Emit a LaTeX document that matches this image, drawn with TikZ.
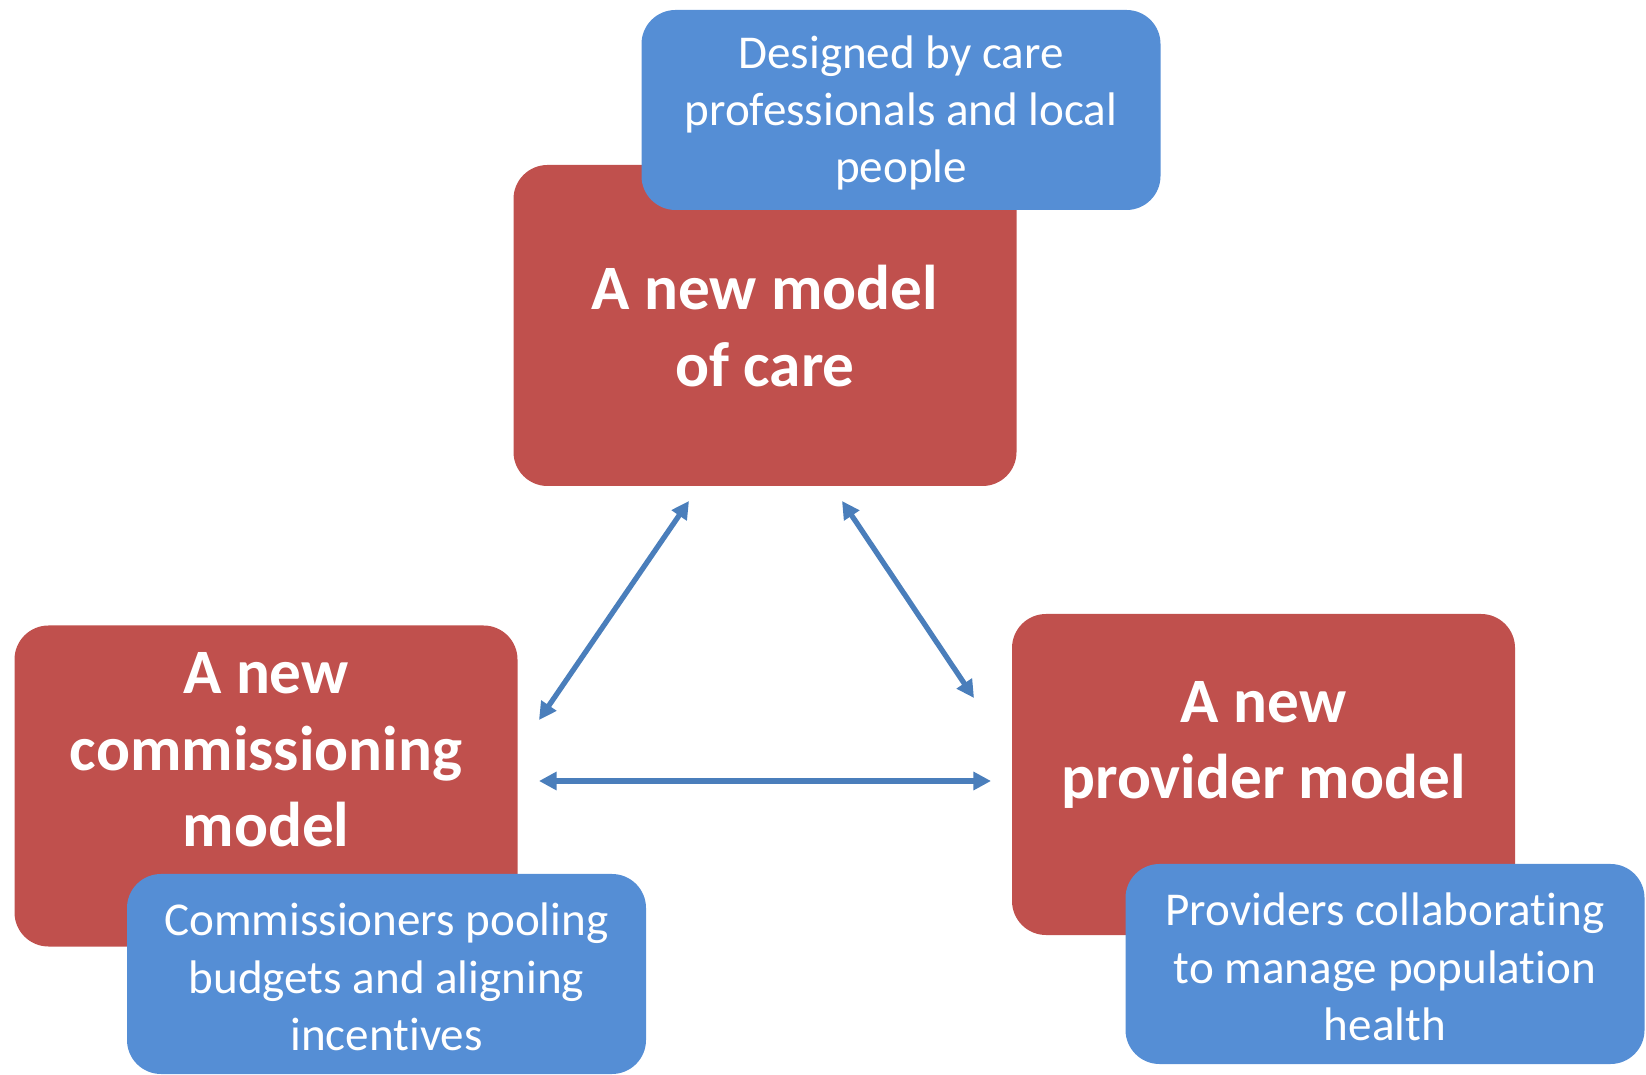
\documentclass[tikz,border=0pt]{standalone}
\usepackage{fontspec}
\setmainfont{Carlito}[Ligatures=NoCommon]
\usepackage{tikz}
\usetikzlibrary{arrows.meta}
\definecolor{boxred}{HTML}{C0504D}
\definecolor{boxblue}{HTML}{558ED5}
\definecolor{linkblue}{HTML}{4A7EBB}

\begin{document}
\begin{tikzpicture}[
    redbox/.style={shape=rectangle, rounded corners=0.34cm, fill=boxred, minimum width=5.03cm, minimum height=3.21cm},
    redtext/.style={text=white, align=center, font=\fontsize{18}{21.8}\selectfont\bfseries},
    bluebox/.style={shape=rectangle, rounded corners=0.34cm, fill=boxblue, minimum width=5.19cm, minimum height=2cm},
    notetext/.style={text=white, align=center, font=\fontsize{13.4}{16.3}\selectfont},
    link/.style={draw=linkblue, line width=1.5pt, {Triangle[length=5pt,width=5pt]}-{Triangle[length=5pt,width=5pt]}}
]
    \useasboundingbox (0,0) rectangle (16.46,10.74);

    \node[redbox] (care) at (7.65,7.485) {};
    \node[redbox] (comm) at (2.66,2.88) {};
    \node[redbox] (prov) at (12.635,2.995) {};

    \node[redtext] (caretext) at (7.65,7.48) {A new model\\of care};
    \node[redtext] (commtext) at (2.66,3.24) {A new\\commissioning\\model};
    \node[redtext] (provtext) at (12.635,3.29) {A new\\provider model};

    \node[bluebox] (carenote) at (9.01,9.64) {};
    \node[bluebox] (commnote) at (3.865,1.0) {};
    \node[bluebox] (provnote) at (13.85,1.1) {};

    \node[notetext] (carenotetext) at (9.01,9.61) {Designed by care\\professionals and local\\people};
    \node[notetext] (commnotetext) at (3.865,0.97) {Commissioners pooling\\budgets and aligning\\incentives};
    \node[notetext] (provnotetext) at (13.85,1.07) {Providers collaborating\\to manage population\\health};

    % arrow ends
    \coordinate (careL) at (6.89,5.73);
    \coordinate (careR) at (8.42,5.73);
    \coordinate (commT) at (5.39,3.54);
    \coordinate (commR) at (5.39,2.93);
    \coordinate (provT) at (9.74,3.76);
    \coordinate (provL) at (9.91,2.93);

    \path[link] (careL) -- (commT);
    \path[link] (careR) -- (provT);
    \path[link] (commR) -- (provL);
\end{tikzpicture}
\end{document}
